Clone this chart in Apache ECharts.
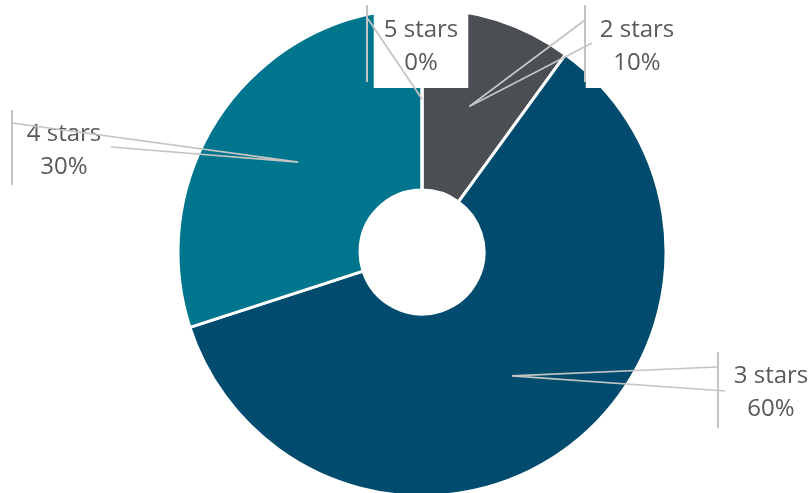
<!DOCTYPE html>
<html>
<head>
<meta charset="utf-8">
<script src="https://cdn.jsdelivr.net/npm/echarts@6/dist/echarts.min.js"></script>
<style>
  html, body { margin: 0; padding: 0; background: #ffffff; }
  #chart { width: 812px; height: 493px; }
</style>
</head>
<body>
<div id="chart"></div>
<script>
// Rating distribution
const categories = ['2 stars', '3 stars', '4 stars', '5 stars'];
const shares = [10, 60, 30, 0];
const sliceColors = ['#4b4f54', '#004b6e', '#00758e', '#a5a5a5'];

// Donut geometry
const CX = 422, CY = 252, R_IN = 62, R_OUT = 244;

// Callout placement: text centre, bracket (x, top, bottom), and the two leader ends
const callouts = [
  { cx: 637, cy: 46.5,  bx: 585, bt: 5,   bb: 82,  a: [585, 20],  b: [592, 43],  box: true,  pad: [14, 14, 3, 14] },
  { cx: 771, cy: 392.5, bx: 718, bt: 352, bb: 428, a: [717, 367], b: [725, 391], box: false, pad: [0, 0] },
  { cx: 64,  cy: 151,   bx: 12,  bt: 110, bb: 185, a: [12, 123],  b: [111, 147], box: false, pad: [0, 0] },
  { cx: 421, cy: 46.5,  bx: 367, bt: 5,   bb: 82,  a: [368, 19],  b: [368, 19],  box: true,  pad: [14, 10, 3, 10] }
];

const total = shares.reduce((s, v) => s + v, 0);

// Point at mid-radius, mid-angle of a slice (angles clockwise from 12 o'clock)
function sliceMidPoint(idx) {
  let before = 0;
  for (let i = 0; i < idx; i++) before += shares[i];
  const mid = (before + shares[idx] / 2) / total * Math.PI * 2;
  const r = (R_IN + R_OUT) / 2;
  return [CX + r * Math.sin(mid), CY - r * Math.cos(mid)];
}

const chart = echarts.init(document.getElementById('chart'), null, { renderer: 'canvas' });

const data = categories.map((name, i) => ({
  name: name,
  value: shares[i],
  itemStyle: { color: sliceColors[i] },
  label: callouts[i].box
    ? { backgroundColor: '#ffffff', padding: callouts[i].pad }
    : {}
}));

const lineColor = '#c4c4c4';
const decorations = [];
callouts.forEach((c, i) => {
  decorations.push({
    type: 'line',
    z: 100,
    shape: { x1: c.bx, y1: c.bt, x2: c.bx, y2: c.bb },
    style: { stroke: lineColor, lineWidth: 2 }
  });
  decorations.push({
    type: 'polyline',
    z: 100,
    shape: { points: [c.a, sliceMidPoint(i), c.b] },
    style: { stroke: lineColor, lineWidth: 1.75, fill: null }
  });
});

chart.setOption({
  animation: false,
  backgroundColor: '#ffffff',
  graphic: decorations,
  series: [{
    type: 'pie',
    center: [CX, CY],
    radius: [R_IN, R_OUT],
    startAngle: 90,
    clockwise: true,
    avoidLabelOverlap: false,
    minShowLabelAngle: 0,
    itemStyle: { borderColor: '#ffffff', borderWidth: 3 },
    label: {
      show: true,
      formatter: '{b}\n{d}%',
      color: '#595959',
      fontFamily: 'Open Sans',
      fontSize: 24,
      lineHeight: 33,
      align: 'center'
    },
    labelLine: { show: false },
    labelLayout: function (params) {
      const c = callouts[params.dataIndex];
      return { x: c.cx, y: c.cy, align: 'center', verticalAlign: 'middle' };
    },
    emphasis: { disabled: true },
    data: data
  }]
});
</script>
</body>
</html>
